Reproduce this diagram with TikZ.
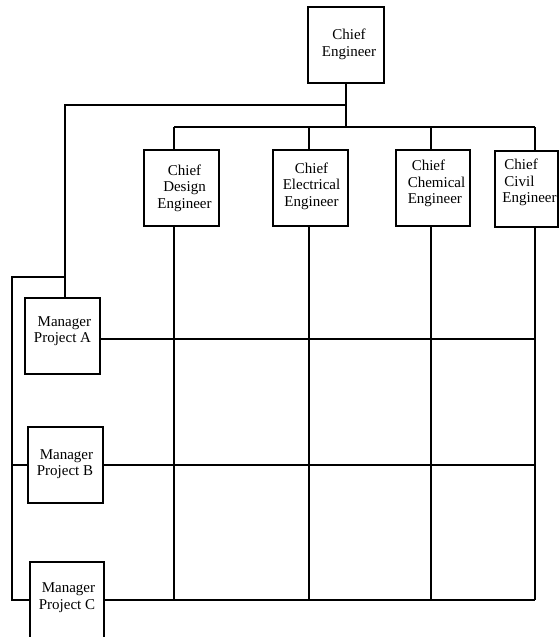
\documentclass[tikz,border=0pt]{standalone}
\usepackage{fontspec}
\setmainfont{Liberation Serif}
\begin{document}
\begin{tikzpicture}[x=1pt,y=-1pt,
  box/.style={draw, line width=1.2pt, minimum width=75pt, minimum height=76pt, inner sep=0pt},
  lbl/.style={font=\fontsize{15}{16.5}\selectfont, inner sep=0pt},
  link/.style={line width=1.2pt}]
\useasboundingbox (0,0) rectangle (559,637);
\clip (0,0) rectangle (559,637);
% boxes
\node[box, minimum width=76pt] (ce) at (346,45) {};
\node[box] (des) at (181.5,188) {};
\node[box] (ele) at (310.5,188) {};
\node[box, minimum width=74pt] (che) at (433,188) {};
\node[box, minimum width=63pt] (civ) at (526.5,189) {};
\node[box] (ma) at (62.5,336) {};
\node[box] (mb) at (65.5,465) {};
\node[box, minimum width=74pt] (mc) at (67,600) {};
% texts
\node[lbl, align=center] (ceT) at (349,44.5) {Chief\\Engineer};
\node[lbl, align=center] (desT) at (184.5,188) {Chief\\Design\\Engineer};
\node[lbl, align=center] (eleT) at (311.5,186) {Chief\\Electrical\\Engineer};
\node[lbl, align=left] (cheT) at (436.5,183.5) {\hspace*{4pt}Chief\\Chemical\\Engineer};
\node[lbl, align=left] (civT) at (529.5,182.5) {\hspace*{2pt}Chief\\\hspace*{2pt}Civil\\Engineer};
\node[lbl, align=right] (maT) at (62.5,331) {Manager\\Project A};
\node[lbl, align=right] (mbT) at (65,464) {Manager\\Project B};
\node[lbl, align=right] (mcT) at (67,597.5) {Manager\\Project C};
% junction coordinates
\coordinate (brC) at (346,105);
\coordinate (brL) at (65,105);
\coordinate (busC) at (346,127);
\coordinate (c1) at (174,127);
\coordinate (c2) at (309,127);
\coordinate (c3) at (431,127);
\coordinate (c4) at (535,127);
\coordinate (inner) at (65,277);
\coordinate (outer) at (12,277);
\coordinate (floor) at (535,600);
% connectors
\draw[link] (ce.south) -- (busC);
\draw[link] (brC) -- (brL) -- (ma.north -| brL);
\draw[link] (c1) -- (c4);
\draw[link] (c1) -- (des.north -| c1);
\draw[link] (c2) -- (ele.north -| c2);
\draw[link] (c3) -- (che.north -| c3);
\draw[link] (c4) -- (civ.north -| c4);
\draw[link] (inner) -- (outer) |- (mc.west);
\draw[link] (outer |- mb.west) -- (mb.west);
\draw[link] ([yshift=-3pt]ma.east) -- ([yshift=-3pt]ma.east -| c4);
\draw[link] (mb.east) -- (mb.east -| c4);
\draw[link] (mc.east) -- (floor);
\draw[link] (des.south -| c1) -- (floor -| c1);
\draw[link] (ele.south -| c2) -- (floor -| c2);
\draw[link] (che.south -| c3) -- (floor -| c3);
\draw[link] (civ.south -| c4) -- (floor);
\end{tikzpicture}
\end{document}
